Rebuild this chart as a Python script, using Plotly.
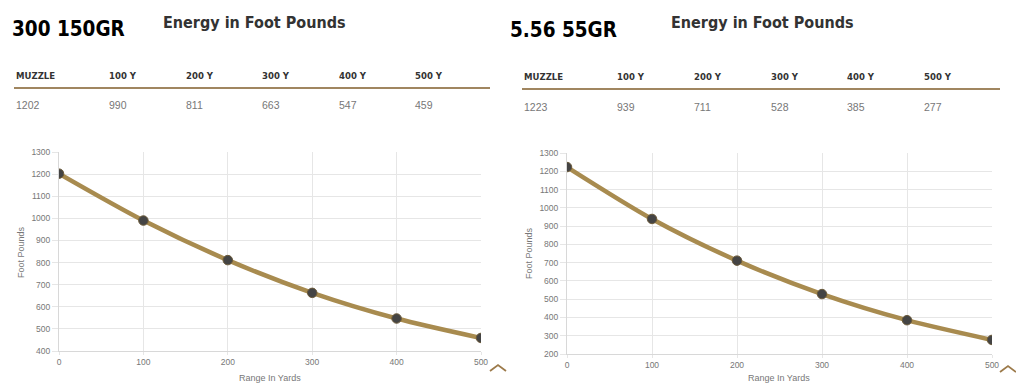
import plotly.graph_objects as go

ranges = [0, 100, 200, 300, 400, 500]
col_labels = ["MUZZLE", "100 Y", "200 Y", "300 Y", "400 Y", "500 Y"]
energy_300 = [1202, 990, 811, 663, 547, 459]
energy_556 = [1223, 939, 711, 528, 385, 277]
titles = ["300 150GR", "5.56 55GR"]
subtitle = "Energy in Foot Pounds"
y_ticks_left = list(range(400, 1301, 100))
y_ticks_right = list(range(200, 1301, 100))

# browser body margin is 8px; figure is sized to fit inside it
OFF = 8
W, H = 1024 - 2 * OFF, 392 - 2 * OFF
LINE = "#a88b4f"
TAN = "#a08660"
GRID = "#e6e6e6"
TICKC = "#777777"
COND = "DejaVu Sans Condensed, Liberation Sans Narrow, Arial Narrow, sans-serif"


def px(x):
    return (x - OFF) / W


def py(y):
    return 1 - (y - OFF) / H


fig = go.Figure()

for vals, ax in [(energy_300, ""), (energy_556, "2")]:
    fig.add_trace(go.Scatter(
        x=ranges, y=vals, mode="lines+markers",
        line=dict(color=LINE, width=4.5, shape="spline", smoothing=0.8),
        marker=dict(color="#444444", size=9.5, line=dict(color="#6b5a3a", width=1)),
        xaxis="x" + ax, yaxis="y" + ax, showlegend=False, hoverinfo="x+y",
    ))

tickfont = dict(family="Liberation Sans, Arial", size=8.5, color=TICKC)
common_x = dict(range=[0, 500], tickvals=ranges, showgrid=True, gridcolor=GRID, gridwidth=1,
                zeroline=False, showline=True, linecolor="#d8d8d8", ticks="outside",
                ticklen=3, tickcolor=GRID, tickfont=tickfont, fixedrange=True, automargin=False)
common_y = dict(showgrid=True, gridcolor=GRID, gridwidth=1, zeroline=False, showline=True,
                linecolor="#d8d8d8", ticks="outside", ticklen=6, tickcolor=GRID,
                tickfont=tickfont, fixedrange=True, automargin=False)

fig.update_layout(
    template="none",
    width=W, height=H, margin=dict(l=0, r=0, t=0, b=0, autoexpand=False),
    paper_bgcolor="white", plot_bgcolor="white",
    xaxis=dict(domain=[px(59), px(481)], anchor="y", **common_x),
    yaxis=dict(domain=[py(351), py(152)], anchor="x", range=[400, 1300], tickvals=y_ticks_left, **common_y),
    xaxis2=dict(domain=[px(567), px(992)], anchor="y2", **common_x),
    yaxis2=dict(domain=[py(354), py(153)], anchor="x2", range=[200, 1300], tickvals=y_ticks_right, **common_y),
)

annotations = []
shapes = []

panels = [
    dict(title_x=10, title_y=29, sub_x=161, tbl_x0=14, col1=107, step=76.5, head_y=75, val_y=105,
         line_y=88, line_x1=490, vals=energy_300, ytitle_x=21, ytitle_y=252, xtitle_x=270, xtitle_y=377.5,
         caret=(490, 506, 365, 371)),
    dict(title_x=508, title_y=30, sub_x=669, tbl_x0=522, col1=615, step=76.8, head_y=76, val_y=107,
         line_y=89, line_x1=1000, vals=energy_556, ytitle_x=529, ytitle_y=253, xtitle_x=779, xtitle_y=378,
         caret=(1000, 1016, 366, 372)),
]

for t, p in zip(titles, panels):
    annotations.append(dict(x=px(p["title_x"]), y=py(p["title_y"]), xref="paper", yref="paper",
                            xanchor="left", yanchor="middle", showarrow=False, text="<b>" + t + "</b>",
                            font=dict(family=COND, size=20.5, color="#000000")))
    annotations.append(dict(x=px(p["sub_x"]), y=py(22), xref="paper", yref="paper",
                            xanchor="left", yanchor="middle", showarrow=False, text="<b>" + subtitle + "</b>",
                            font=dict(family=COND, size=16, color="#333333")))
    for j, (lab, v) in enumerate(zip(col_labels, p["vals"])):
        x = p["tbl_x0"] if j == 0 else p["col1"] + p["step"] * (j - 1)
        annotations.append(dict(x=px(x), y=py(p["head_y"]), xref="paper", yref="paper",
                                xanchor="left", yanchor="middle", showarrow=False, text="<b>" + lab + "</b>",
                                font=dict(family=COND, size=9.5, color="#333333")))
        annotations.append(dict(x=px(x), y=py(p["val_y"]), xref="paper", yref="paper",
                                xanchor="left", yanchor="middle", showarrow=False, text=str(v),
                                font=dict(family="Liberation Sans, Arial", size=10.5, color="#777777")))
    shapes.append(dict(type="line", xref="paper", yref="paper", x0=px(p["tbl_x0"]), x1=px(p["line_x1"]),
                       y0=py(p["line_y"]), y1=py(p["line_y"]), line=dict(color=TAN, width=2)))
    annotations.append(dict(x=px(p["ytitle_x"]), y=py(p["ytitle_y"]), xref="paper", yref="paper",
                            xanchor="center", yanchor="middle", showarrow=False, text="Foot Pounds",
                            textangle=-90, font=dict(family="Liberation Sans, Arial", size=9, color=TICKC)))
    annotations.append(dict(x=px(p["xtitle_x"]), y=py(p["xtitle_y"]), xref="paper", yref="paper",
                            xanchor="center", yanchor="middle", showarrow=False, text="Range In Yards",
                            borderpad=0,
                            font=dict(family="Liberation Sans, Arial", size=9, color=TICKC)))
    cx0, cx1, cy0, cy1 = p["caret"]
    cm = (cx0 + cx1) / 2
    shapes.append(dict(type="path", xref="paper", yref="paper",
                       path=f"M {px(cx0)} {py(cy1)} L {px(cm)} {py(cy0)} L {px(cx1)} {py(cy1)}",
                       line=dict(color="#9c7a4a", width=1.8)))

fig.update_layout(annotations=annotations, shapes=shapes)
fig.write_html("out.html")
